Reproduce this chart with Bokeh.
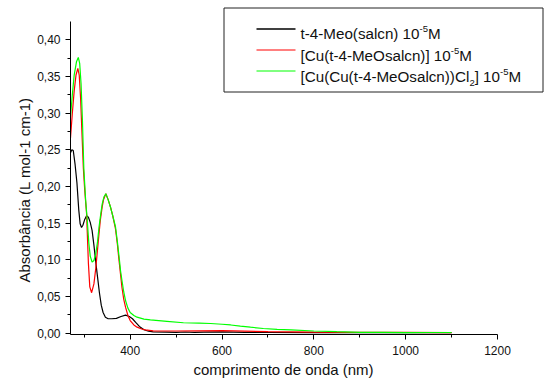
from bokeh.core.properties import value
from bokeh.embed import file_html
from bokeh.models import (ColumnDataSource, CustomJSTickFormatter, FixedTicker,
                          Range1d, Title)
from bokeh.plotting import figure
from bokeh.resources import INLINE

# UV-Vis spectra, 10^-5 M solutions
wl_ligand = [270, 273, 276, 280, 284, 288, 291, 294, 297, 301, 305, 309, 313,
             317, 321, 325, 329, 333, 337, 341, 346, 352, 360, 370, 380, 390,
             398, 405, 412, 420, 430, 440, 450, 480, 500, 520, 540, 560, 600,
             650, 700, 800, 900, 1000, 1100]
abs_ligand = [0.246, 0.250, 0.249, 0.230, 0.205, 0.168, 0.149, 0.144, 0.147,
              0.155, 0.160, 0.158, 0.151, 0.140, 0.120, 0.097, 0.076, 0.055,
              0.038, 0.028, 0.0215, 0.0195, 0.0195, 0.020, 0.0225, 0.0245,
              0.0225, 0.0195, 0.0145, 0.009, 0.0045, 0.0025, 0.0015, 0.0012,
              0.0010, 0.0014, 0.0008, 0.0012, 0.0015, 0.0010, 0.0008, 0.0006,
              0.0005, 0.0006, 0.0004]

wl_cu = [270, 274, 278, 282, 286, 289, 292, 295, 298, 301, 305, 309, 312, 316,
         321, 325, 328, 332, 335, 339, 342, 347, 352, 357, 362, 368, 372, 375,
         379, 382, 386, 390, 395, 400, 408, 415, 425, 433, 450, 500, 550, 600,
         650, 700, 800, 900, 1000, 1100]
abs_cu = [0.266, 0.300, 0.330, 0.352, 0.361, 0.352, 0.320, 0.272, 0.225, 0.195,
          0.163, 0.095, 0.063, 0.055, 0.067, 0.088, 0.108, 0.135, 0.154, 0.172,
          0.182, 0.190, 0.182, 0.172, 0.160, 0.142, 0.122, 0.103, 0.080,
          0.0625, 0.046, 0.035, 0.024, 0.017, 0.011, 0.008, 0.0055, 0.0044,
          0.003, 0.0028, 0.003, 0.0032, 0.0025, 0.0018, 0.0012, 0.0010, 0.0008,
          0.0006]

wl_cucl = [270, 274, 278, 283, 287, 290, 293, 296, 299, 303, 306, 310, 313, 317,
           321, 325, 329, 332, 336, 339, 343, 347, 352, 357, 362, 368, 372, 376,
           379, 382, 386, 390, 395, 400, 408, 415, 430, 444, 480, 516, 550, 575,
           600, 619, 640, 662, 690, 720, 750, 800, 850, 900, 950, 1000, 1050,
           1100]
abs_cucl = [0.295, 0.325, 0.352, 0.370, 0.376, 0.368, 0.340, 0.290, 0.225,
            0.181, 0.158, 0.122, 0.105, 0.0967, 0.099, 0.108, 0.125, 0.144,
            0.163, 0.176, 0.186, 0.190, 0.182, 0.172, 0.160, 0.145, 0.125,
            0.103, 0.085, 0.072, 0.056, 0.044, 0.034, 0.028, 0.024, 0.0216,
            0.019, 0.018, 0.016, 0.014, 0.0135, 0.013, 0.012, 0.011, 0.0095,
            0.008, 0.0062, 0.005, 0.0044, 0.0028, 0.0018, 0.0010, 0.0008,
            0.0006, 0.0007, 0.0007]

series_colors = ["#000000", "#ff0000", "#00ff00"]

# Legend labels as runs of (text, normal / superscript / subscript)
legend_labels = [
    [("t-4-Meo(salcn) 10", "main"), ("-5", "sup"), ("M", "main")],
    [("[Cu(t-4-MeOsalcn)] 10", "main"), ("-5", "sup"), ("M", "main")],
    [("[Cu(Cu(t-4-MeOsalcn))Cl", "main"), ("2", "sub"), ("] 10", "main"),
     ("-5", "sup"), ("M", "main")],
]

x_major = [400, 600, 800, 1000, 1200]
x_minor = [300, 500, 700, 900, 1100]
y_major = [0.0, 0.05, 0.10, 0.15, 0.20, 0.25, 0.30, 0.35, 0.40]
y_minor = [0.025, 0.075, 0.125, 0.175, 0.225, 0.275, 0.325, 0.375]

# Axis extents; the plotting area reaches further so the legend box fits
x_axis_span = (270, 1200)
y_axis_span = (-0.002, 0.425)

FONT = "Liberation Sans"
W, H = 544, 383
BORDER_L, BORDER_R, BORDER_T, BORDER_B = 70, 0, 6, 49

p = figure(width=W, height=H, output_backend="svg", toolbar_location=None,
           x_range=Range1d(270, 1302.4), y_range=Range1d(-0.002, 0.4455),
           min_border_left=BORDER_L, min_border_right=BORDER_R,
           min_border_top=BORDER_T, min_border_bottom=BORDER_B)
p.outline_line_color = None
p.grid.visible = False
p.background_fill_color = "white"
p.border_fill_color = "white"

# Pixel-space ranges for laying out the legend box
p.extra_x_ranges = {"px": Range1d(BORDER_L, W - BORDER_R)}
p.extra_y_ranges = {"px": Range1d(H - BORDER_B, BORDER_T)}

for wl, ab, col in zip([wl_ligand, wl_cu, wl_cucl],
                       [abs_ligand, abs_cu, abs_cucl], series_colors):
    p.line(wl, ab, line_color=col, line_width=1.2)

for ax in (p.xaxis[0], p.yaxis[0]):
    ax.axis_line_color = "black"
    ax.axis_line_width = 1
    ax.major_tick_line_color = "black"
    ax.minor_tick_line_color = "black"
    ax.major_tick_out = 5
    ax.major_tick_in = 0
    ax.minor_tick_out = 3
    ax.minor_tick_in = 0
    ax.major_label_text_font = FONT
    ax.major_label_text_font_size = "12px"
    ax.major_label_text_color = "#111111"
    ax.major_label_standoff = 5

p.xaxis.bounds = x_axis_span
p.yaxis.bounds = y_axis_span
p.xaxis.ticker = FixedTicker(ticks=x_major, minor_ticks=x_minor)
p.yaxis.ticker = FixedTicker(ticks=y_major, minor_ticks=y_minor)
p.yaxis.formatter = CustomJSTickFormatter(
    code="return tick.toFixed(2).replace('.', ',');")
p.xaxis.major_label_standoff = 6

# Axis titles, positioned along the visible axis spans
p.add_layout(Title(text="Absorbância (L mol-1 cm-1)", align="left",
                   offset=52, text_font=FONT, text_font_size="15px",
                   text_font_style="normal", text_color="#111111",
                   standoff=4), "left")
p.add_layout(Title(text="comprimento de onda (nm)", align="left",
                   offset=123, text_font=FONT, text_font_size="15px",
                   text_font_style="normal", text_color="#111111",
                   standoff=2), "below")

# ---- legend box -------------------------------------------------------
LABEL_PX = 15.2
SCRIPT_PX = 9.5
SHIFT = {"main": 0.0, "sup": -4.5, "sub": 6.5}
# Advance widths (1/1000 em) of Liberation Sans for the legend characters
ADV = {" ": 278, "(": 333, ")": 333, "-": 333, "[": 278, "]": 278,
       "C": 722, "M": 833, "O": 778, "a": 556, "c": 500, "e": 556,
       "l": 222, "n": 556, "o": 556, "s": 500, "t": 278, "u": 556}
ADV.update({d: 556 for d in "0123456789"})


def advance(text, size):
    return sum(ADV[ch] for ch in text) * size / 1000.0


box = dict(left=223.5, right=542.5, top=7.5, bottom=91.5)
row_mid = [28.5, 49.5, 70.5]
row_base = [33.3, 54.6, 75.9]
swatch_x = (256, 295)
swatch_widths = [1.6, 1.0, 1.0]
text_x0 = 300

p.quad(x_range_name="px", y_range_name="px", fill_color="white",
       line_color="#222222", line_width=1, **{k: [v] for k, v in box.items()})
p.segment(x0=[swatch_x[0]] * 3, x1=[swatch_x[1]] * 3, y0=row_mid, y1=row_mid,
          line_color=series_colors, line_width=swatch_widths,
          x_range_name="px", y_range_name="px")

runs = dict(x=[], y=[], text=[], size=[])
for row, base in zip(legend_labels, row_base):
    x = text_x0
    for txt, kind in row:
        size = LABEL_PX if kind == "main" else SCRIPT_PX
        runs["x"].append(x)
        runs["y"].append(base + SHIFT[kind])
        runs["text"].append(txt)
        runs["size"].append(f"{size}px")
        x += advance(txt, size)

p.text(x="x", y="y", text="text", text_font_size="size",
       source=ColumnDataSource(runs), text_font=value(FONT),
       text_color="#111111", text_align="left", text_baseline="alphabetic",
       x_range_name="px", y_range_name="px")

open("out.html", "w").write(file_html(p, INLINE))
